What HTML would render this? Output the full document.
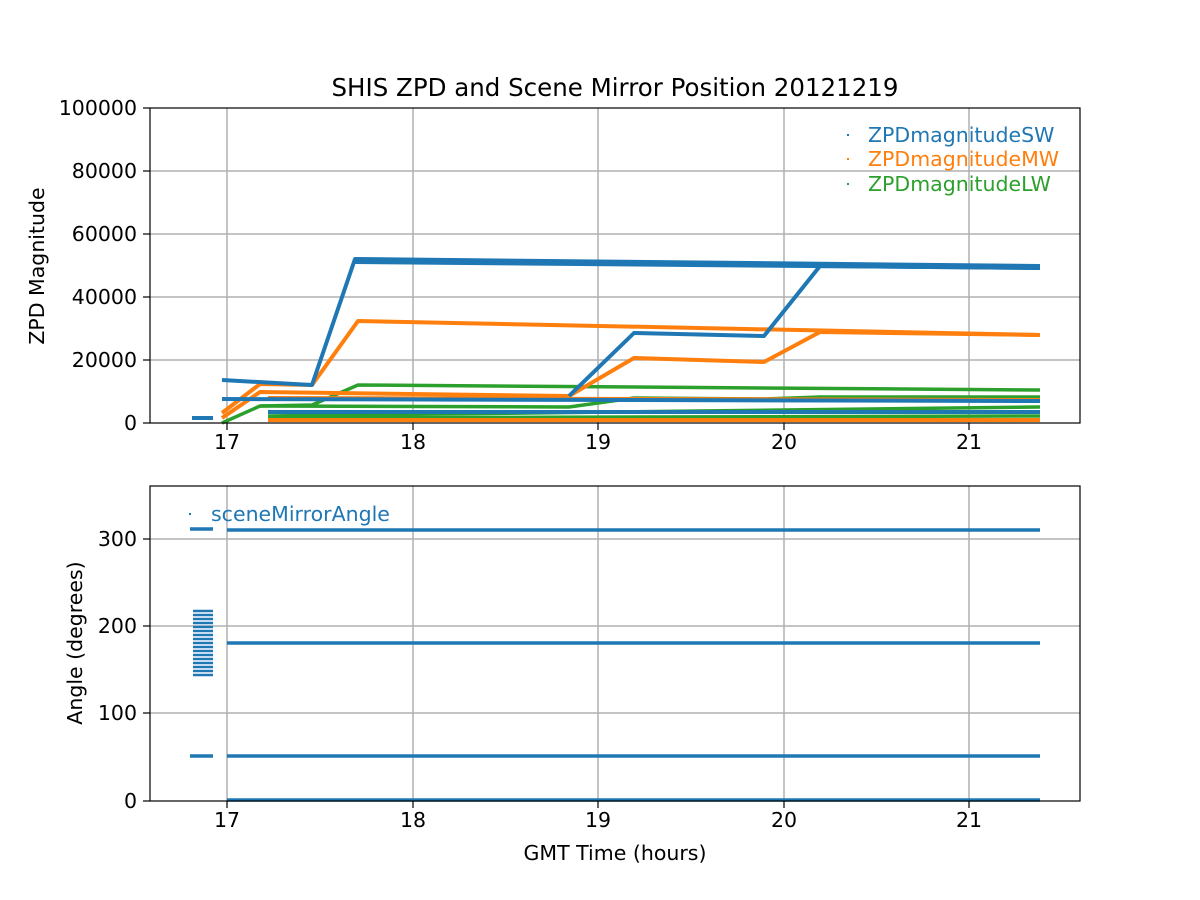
<!DOCTYPE html>
<html><head><meta charset="utf-8"><style>body{margin:0;background:#fff}svg{display:block;font-family:"DejaVu Sans","Liberation Sans",sans-serif}</style></head><body>
<svg width="1200" height="900" xmlns="http://www.w3.org/2000/svg">
<rect width="1200" height="900" fill="#fff"/>
<g stroke="#b0b0b0" stroke-width="1.5">
<line x1="227" y1="108" x2="227" y2="423"/><line x1="413" y1="108" x2="413" y2="423"/><line x1="598" y1="108" x2="598" y2="423"/><line x1="784" y1="108" x2="784" y2="423"/><line x1="969" y1="108" x2="969" y2="423"/>
<line x1="150" y1="360" x2="1080" y2="360"/><line x1="150" y1="297" x2="1080" y2="297"/><line x1="150" y1="234" x2="1080" y2="234"/><line x1="150" y1="171" x2="1080" y2="171"/>
<line x1="227" y1="486" x2="227" y2="801"/><line x1="413" y1="486" x2="413" y2="801"/><line x1="598" y1="486" x2="598" y2="801"/><line x1="784" y1="486" x2="784" y2="801"/><line x1="969" y1="486" x2="969" y2="801"/>
<line x1="150" y1="713" x2="1080" y2="713"/><line x1="150" y1="626" x2="1080" y2="626"/><line x1="150" y1="539" x2="1080" y2="539"/>
</g>
<g fill="none" stroke-linejoin="round">
<g stroke="#2ca02c" stroke-width="3.5">
<polyline points="222,423 260,406 312,405 358,385 1040,390"/>
<polyline points="260,406 569,407 634,398 764,399 820,397 1040,397"/>
<polyline points="268,416 1040,407"/>
<polyline points="268,418 1040,416"/>
</g>
<g stroke="#ff7f0e" stroke-width="4">
<polyline points="222,413 260,384 312,385 358,321 1040,335"/>
<polyline points="222,418 260,392 569,396 634,358 764,362 820,332 1040,335"/>
<polyline points="268,398 1040,400"/>
<polyline points="268,420 1040,420"/>
</g>
<g stroke="#1f77b4" stroke-width="4">
<polyline points="222,380 312,385 355,259 1040,266"/>
<polyline points="355,262 1040,268"/>
<polyline points="569,396 634,333 764,336 820,266 1040,268"/>
<polyline points="222,399 1040,401"/>
<polyline points="268,412 1040,412"/>
<polyline points="192,418 213,418"/>
</g>
</g>
<rect x="150" y="108" width="930" height="315" fill="none" stroke="#000" stroke-width="1.2"/>
<g stroke="#000" stroke-width="1.2"><line x1="227" y1="423" x2="227" y2="430"/><line x1="413" y1="423" x2="413" y2="430"/><line x1="598" y1="423" x2="598" y2="430"/><line x1="784" y1="423" x2="784" y2="430"/><line x1="969" y1="423" x2="969" y2="430"/>
<line x1="143" y1="423" x2="150" y2="423"/><line x1="143" y1="360" x2="150" y2="360"/><line x1="143" y1="297" x2="150" y2="297"/><line x1="143" y1="234" x2="150" y2="234"/><line x1="143" y1="171" x2="150" y2="171"/><line x1="143" y1="108" x2="150" y2="108"/></g>
<g font-size="20.5" text-anchor="middle"><text x="227" y="449">17</text><text x="413" y="449">18</text><text x="598" y="449">19</text><text x="784" y="449">20</text><text x="969" y="449">21</text></g>
<g font-size="20.5" text-anchor="end"><text x="137" y="430">0</text><text x="137" y="367">20000</text><text x="137" y="304">40000</text><text x="137" y="241">60000</text><text x="137" y="178">80000</text><text x="137" y="115">100000</text></g>
<text x="615" y="96" font-size="24.5" text-anchor="middle">SHIS ZPD and Scene Mirror Position 20121219</text>
<text transform="translate(44,266) rotate(-90)" font-size="20.5" text-anchor="middle">ZPD Magnitude</text>
<g font-size="20.5"><rect x="847" y="134" width="2" height="2" fill="#1f77b4"/><text x="868" y="142" fill="#1f77b4">ZPDmagnitudeSW</text>
<rect x="847" y="158" width="2" height="2" fill="#ff7f0e"/><text x="868" y="166" fill="#ff7f0e">ZPDmagnitudeMW</text>
<rect x="847" y="183" width="2" height="2" fill="#2ca02c"/><text x="868" y="191" fill="#2ca02c">ZPDmagnitudeLW</text></g>
<g stroke="#1f77b4" stroke-width="3.5">
<line x1="227" y1="530" x2="1040" y2="530"/><line x1="227" y1="643" x2="1040" y2="643"/><line x1="227" y1="756" x2="1040" y2="756"/><line x1="227" y1="800" x2="1040" y2="800"/>
<line x1="190" y1="529" x2="213" y2="529"/><line x1="190" y1="756" x2="213" y2="756"/>
</g>
<g stroke="#1f77b4" stroke-width="2.4">
<path d="M193 611h20M193 615h20M193 619h20M193 623h20M193 627h20M193 631h20M193 635h20M193 639h20M193 643h20M193 647h20M193 651h20M193 655h20M193 659h20M193 663h20M193 667h20M193 671h20M193 675h20"/>
</g>
<rect x="150" y="486" width="930" height="315" fill="none" stroke="#000" stroke-width="1.2"/>
<g stroke="#000" stroke-width="1.2"><line x1="227" y1="801" x2="227" y2="808"/><line x1="413" y1="801" x2="413" y2="808"/><line x1="598" y1="801" x2="598" y2="808"/><line x1="784" y1="801" x2="784" y2="808"/><line x1="969" y1="801" x2="969" y2="808"/>
<line x1="143" y1="801" x2="150" y2="801"/><line x1="143" y1="713" x2="150" y2="713"/><line x1="143" y1="626" x2="150" y2="626"/><line x1="143" y1="539" x2="150" y2="539"/></g>
<g font-size="20.5" text-anchor="middle"><text x="227" y="827">17</text><text x="413" y="827">18</text><text x="598" y="827">19</text><text x="784" y="827">20</text><text x="969" y="827">21</text></g>
<g font-size="20.5" text-anchor="end"><text x="137" y="808">0</text><text x="137" y="720">100</text><text x="137" y="633">200</text><text x="137" y="546">300</text></g>
<text x="615" y="860" font-size="20.5" text-anchor="middle">GMT Time (hours)</text>
<text transform="translate(82,643) rotate(-90)" font-size="20.5" text-anchor="middle">Angle (degrees)</text>
<rect x="189" y="513" width="2" height="2" fill="#1f77b4"/><text x="211" y="521" font-size="20.5" fill="#1f77b4">sceneMirrorAngle</text>
</svg>
</body></html>
